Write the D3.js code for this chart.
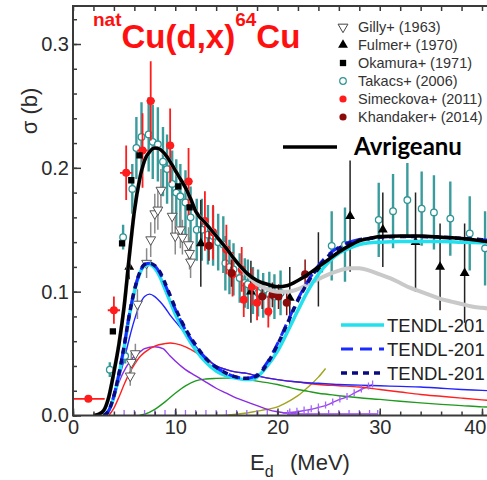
<!DOCTYPE html>
<html>
<head>
<meta charset="utf-8">
<script src="https://cdn.jsdelivr.net/npm/d3@7"></script>
<style>
  body { margin: 0; background: #fff; }
  svg { display: block; font-family: "Liberation Sans", Arial, sans-serif; }
</style>
</head>
<body>
<svg id="chart" width="487" height="480"></svg>
<script>
// ---- data (E in MeV, sigma in b) ----
const xTicks = [0, 10, 20, 30, 40];
const yTicks = [0, 0.1, 0.2, 0.3];

// model curves [E, sigma]
const avrigeanu = [[2,0],[2.5,0.001],[3,0.004],[3.5,0.015],[4,0.035],[4.5,0.058],[5,0.088],[5.5,0.128],[6,0.165],[6.5,0.19],[7,0.206],[7.5,0.213],[8,0.216],[8.5,0.215],[9,0.211],[9.5,0.205],[10,0.198],[10.5,0.191],[11,0.184],[11.5,0.175],[12,0.165],[13,0.155],[14,0.145],[15,0.135],[16,0.124],[17,0.115],[18,0.109],[19,0.106],[20,0.104],[21,0.105],[22,0.109],[23,0.114],[24,0.12],[25,0.126],[26,0.132],[27,0.137],[28,0.141],[29,0.143],[30,0.1445],[32,0.145],[34,0.145],[36,0.144],[38,0.143],[40,0.141],[42,0.139]];
const grayCurve = [[2,0],[2.5,0.001],[3,0.004],[3.5,0.015],[4,0.035],[4.5,0.058],[5,0.088],[5.5,0.128],[6,0.165],[6.5,0.19],[7,0.206],[7.5,0.213],[8,0.216],[8.5,0.215],[9,0.211],[9.5,0.205],[10,0.198],[10.5,0.191],[11,0.184],[11.5,0.175],[12,0.165],[13,0.155],[14,0.145],[15,0.135],[16,0.124],[17,0.114],[18,0.106],[19,0.102],[20,0.1],[21,0.1],[22,0.102],[23,0.106],[24,0.11],[25,0.114],[26,0.117],[27,0.119],[28,0.119],[29,0.117],[30,0.114],[31,0.111],[32,0.107],[33,0.103],[34,0.1],[35,0.097],[36,0.094],[37,0.092],[38,0.09],[39,0.088],[40,0.087],[42,0.085]];
const tendlA = [[3,0],[3.5,0.004],[4,0.015],[4.5,0.033],[5,0.055],[5.5,0.08],[6,0.1],[6.5,0.114],[7,0.121],[7.5,0.122],[8,0.119],[8.5,0.112],[9,0.102],[9.5,0.092],[10,0.082],[11,0.066],[12,0.053],[13,0.043],[14,0.036],[15,0.032],[16,0.03],[17,0.029],[17.5,0.029],[18,0.031],[19,0.04],[20,0.052],[21,0.068],[22,0.085],[23,0.101],[24,0.114],[25,0.124],[26,0.131],[27,0.135],[28,0.138],[29,0.1395],[30,0.14],[32,0.1405],[34,0.1405],[36,0.1405],[38,0.14],[40,0.1395],[42,0.139]];
const tendlB = [[3,0],[3.5,0.004],[4,0.016],[4.5,0.034],[5,0.056],[5.5,0.081],[6,0.101],[6.5,0.115],[7,0.122],[7.5,0.123],[8,0.121],[8.5,0.115],[9,0.106],[9.5,0.096],[10,0.086],[11,0.069],[12,0.056],[13,0.046],[14,0.039],[15,0.034],[16,0.031],[17,0.03],[18,0.033],[19,0.043],[20,0.058],[21,0.076],[22,0.094],[23,0.109],[24,0.121],[25,0.13],[26,0.136],[27,0.14],[28,0.142],[29,0.143],[30,0.144],[32,0.1445],[34,0.1445],[36,0.144],[38,0.143],[40,0.142],[42,0.141]];
const tendlC = [[3,0],[3.5,0.004],[4,0.016],[4.5,0.034],[5,0.056],[5.5,0.081],[6,0.101],[6.5,0.115],[7,0.122],[7.5,0.123],[8,0.121],[8.5,0.116],[9,0.107],[9.5,0.097],[10,0.087],[11,0.07],[12,0.057],[13,0.046],[14,0.039],[15,0.034],[16,0.031],[17,0.03],[18,0.032],[19,0.042],[20,0.057],[21,0.075],[22,0.093],[23,0.108],[24,0.12],[25,0.129],[26,0.135],[27,0.139],[28,0.142],[29,0.143],[30,0.144],[32,0.1445],[34,0.1445],[36,0.144],[38,0.143],[40,0.142],[42,0.141]];
const blueComp = [[3.3,0],[3.6,0.006],[4,0.015],[4.5,0.03],[5,0.045],[5.5,0.062],[6,0.077],[6.5,0.089],[7,0.096],[7.5,0.098],[8,0.096],[8.5,0.092],[9,0.087],[9.5,0.081],[10,0.076],[11,0.066],[12,0.056],[13,0.047],[14,0.04],[15,0.037],[16,0.035],[17,0.034],[18,0.032],[20,0.029],[22,0.027],[24,0.026],[26,0.025],[28,0.0245],[30,0.024],[32,0.0235],[34,0.023],[36,0.022],[38,0.021],[40,0.0203],[42,0.0195]];
const redComp = [[3.5,0],[4,0.006],[4.5,0.015],[5,0.025],[5.5,0.034],[6,0.041],[6.5,0.047],[7,0.051],[8,0.056],[9,0.058],[9.5,0.0585],[10,0.058],[11,0.0555],[12,0.051],[13,0.045],[14,0.04],[15,0.037],[16,0.035],[17,0.034],[18,0.032],[20,0.029],[22,0.027],[24,0.025],[26,0.024],[28,0.023],[30,0.021],[32,0.019],[34,0.017],[36,0.0155],[38,0.014],[40,0.0126],[42,0.0115]];
const purpleComp = [[3.3,0],[3.9,0.0125],[4.5,0.027],[5.2,0.039],[6,0.048],[6.5,0.051],[7,0.054],[8,0.0555],[8.8,0.054],[9.5,0.048],[10,0.044],[11,0.037],[12,0.032],[13,0.027],[14,0.022],[15,0.018],[16,0.014],[17,0.011],[18,0.008],[19,0.005],[20,0.003],[21,0.002],[22,0.002]];
const purpleRise = [[20.5,0.002],[21.2,0.0025],[21.9,0.003],[22.6,0.004],[23.3,0.005],[24,0.0065],[24.7,0.008],[25.4,0.0105],[26.1,0.013],[26.8,0.015],[27.5,0.018],[28.2,0.021],[28.9,0.0235],[29.3,0.025]];
const purpleBase = [[5,0.0012],[6,0.0012],[7,0.0012],[8,0.0012],[9,0.0012],[10,0.0012],[11,0.0012],[12,0.0012],[13,0.0012],[14,0.0012],[15,0.0012],[16,0.0012],[17,0.0012],[18,0.0012],[19,0.0012],[20,0.0012],[21,0.0012],[22,0.0012],[23,0.0012],[24,0.0012],[25,0.0012],[26,0.0012],[27,0.0012],[28,0.0012],[29,0.0012],[29.8,0.0012]];
const greenComp = [[6.5,0],[7,0.001],[8,0.005],[9,0.011],[10,0.018],[11,0.024],[12,0.028],[13,0.0295],[14,0.03],[15,0.0302],[16,0.03],[17,0.029],[18,0.0278],[19,0.0265],[20,0.025],[21,0.023],[22,0.021],[23,0.0195],[24,0.018],[25,0.017],[26,0.016],[28,0.0143],[30,0.013],[32,0.0115],[34,0.0102],[36,0.009],[38,0.008],[40,0.007],[42,0.0065]];
const oliveComp = [[14,0],[15,0.0003],[16,0.001],[17,0.002],[18,0.0035],[19,0.005],[20,0.007],[21,0.011],[22,0.016],[23,0.023],[24,0.031],[24.7,0.038]];

// experimental points [E, sigma, dSigma]
const gilly = [[5.6,0.032,0.008],[5.7,0.043,0.008],[6.1,0.05,0.008],[6.3,0.09,0.012],[7.2,0.123,0.012],[7.6,0.142,0.014],[8.0,0.163,0.016],[8.3,0.166,0.016],[8.6,0.182,0.017],[9.7,0.161,0.016],[10.0,0.145,0.015],[10.5,0.150,0.015],[10.7,0.144,0.014],[11.3,0.138,0.014],[11.4,0.131,0.013],[11.5,0.124,0.013]];
const fulmer = [[5.5,0.12,0.01],[12.5,0.139,0.035],[17.4,0.10,0.025],[21.2,0.095,0.025],[24.0,0.118,0.03],[27.1,0.161,0.045],[30.3,0.150,0.03],[33.5,0.140,0.04],[35.9,0.120,0.035],[38.3,0.115,0.04]];
const okamura = [[3.9,0.068,0.005],[4.8,0.139,0.006],[5.7,0.19,0.008],[6.5,0.21,0.008],[10.3,0.185,0.008],[11.4,0.168,0.008]];
const takacs = [[3.6,0.037,0.006],[4.9,0.144,0.01],[5.1,0.048,0.006],[5.8,0.183,0.02],[6.2,0.216,0.025],[6.7,0.225,0.028],[7.4,0.227,0.03],[7.8,0.221,0.03],[8.3,0.219,0.03],[8.8,0.205,0.028],[9.2,0.199,0.028],[9.7,0.187,0.027],[10.1,0.18,0.027],[10.5,0.177,0.026],[11.0,0.172,0.026],[11.5,0.16,0.025],[12.1,0.15,0.025],[12.6,0.15,0.025],[13.2,0.146,0.024],[13.7,0.145,0.024],[14.2,0.14,0.023],[14.7,0.138,0.023],[14.9,0.123,0.022],[15.3,0.12,0.022],[15.7,0.118,0.021],[16.3,0.111,0.02],[16.8,0.107,0.02],[17.1,0.106,0.02],[17.6,0.101,0.019],[18.1,0.099,0.019],[18.6,0.097,0.018],[19.2,0.098,0.018],[19.7,0.096,0.018],[20.3,0.099,0.018],[25.3,0.137,0.028],[26.6,0.138,0.03],[29.9,0.158,0.03],[31.3,0.165,0.03],[32.7,0.174,0.03],[34.1,0.167,0.03],[35.3,0.164,0.03],[36.9,0.159,0.03],[38.8,0.147,0.03],[40.3,0.135,0.03]];
const simeckova = [[1.5,0.0135,0.002,1.6],[4.0,0.085,0.011,0.6],[5.2,0.196,0.022,0.6],[6.8,0.214,0.03,0.5],[7.6,0.254,0.032,0.4],[9.5,0.218,0.03,0.4],[11.3,0.189,0.027,0.4],[12.9,0.157,0.024,0.3],[13.7,0.148,0.022,0.3],[15.0,0.134,0.02,0.3],[15.6,0.114,0.018,0.3],[16.5,0.118,0.018,0.3],[16.7,0.0935,0.014,0.3],[17.5,0.104,0.015,0.3],[18.0,0.091,0.014,0.3],[19.1,0.084,0.013,0.3]];
const khandaker = [[13.3,0.137,0.012],[15.5,0.115,0.011],[18.5,0.096,0.01],[19.5,0.0975,0.01],[20.1,0.096,0.01],[20.9,0.091,0.01],[22.7,0.114,0.012]];

const expLegend = ["Gilly+ (1963)", "Fulmer+ (1970)", "Okamura+ (1971)", "Takacs+ (2006)", "Simeckova+ (2011)", "Khandaker+ (2014)"];
const tendlLegend = ["TENDL-201", "TENDL-201", "TENDL-201"];

// ---- layout ----
const svg = d3.select("#chart");
const plot = { left: 73, right: 502, top: 6, bottom: 415.5 };

const x = d3.scaleLinear().domain([0, 40]).range([plot.left, 482]);
const y = d3.scaleLinear().domain([0, 0.3]).range([plot.bottom, 44]);

const teal = "#2f9595";
const red = "#ff1c1c";
const darkRed = "#8b0b0b";
const purple = "#9b45f0";

svg.append("clipPath").attr("id", "clip")
  .append("rect")
  .attr("x", plot.left).attr("y", plot.top)
  .attr("width", plot.right - plot.left).attr("height", plot.bottom - plot.top);

const g = svg.append("g").attr("clip-path", "url(#clip)");

const line = d3.line()
  .x(d => x(d[0]))
  .y(d => y(d[1]))
  .curve(d3.curveMonotoneX);

//Component curves
const thin = [
  [oliveComp, "#a3a31c"],
  [greenComp, "#1f9a1f"],
  [purpleComp, "#8a2be2"],
  [purpleRise, purple],
  [purpleBase.filter(d => d[0] >= 20.5), purple],
  [redComp, "#ff2020"],
  [blueComp, "#2323ff"]
];
thin.forEach(([data, color]) => {
  g.append("path").datum(data)
    .attr("d", line)
    .attr("fill", "none")
    .attr("stroke", color)
    .attr("stroke-width", 1.4);
});

// tick markers on the purple series
g.selectAll(".ptick").data(purpleRise.slice(1).concat(purpleBase)).enter()
  .append("line")
  .attr("x1", d => x(d[0])).attr("x2", d => x(d[0]))
  .attr("y1", d => y(d[1]) - 4).attr("y2", d => y(d[1]) + 3)
  .attr("stroke", "#a366f5").attr("stroke-width", 1.3);

//Error bars helper
const drawPoints = (data, color, width) => {
  const grp = g.append("g");
  grp.selectAll("line.ey").data(data).enter()
    .append("line")
    .attr("x1", d => x(d[0])).attr("x2", d => x(d[0]))
    .attr("y1", d => y(d[1] - d[2])).attr("y2", d => y(d[1] + d[2]))
    .attr("stroke", color).attr("stroke-width", width);
  return grp;
};

// Takacs
const tk = drawPoints(takacs, "#3a9c9c", 2.4);
// Gilly
const gl = drawPoints(gilly, "#8a8a8a", 1.5);
// Fulmer
const fu = drawPoints(fulmer, "#222", 1.5);
// Simeckova (with energy bars)
const sm = drawPoints(simeckova, red, 1.8);
sm.selectAll("line.ex").data(simeckova).enter()
  .append("line")
  .attr("x1", d => x(d[0] - d[3])).attr("x2", d => x(d[0] + d[3]))
  .attr("y1", d => y(d[1])).attr("y2", d => y(d[1]))
  .attr("stroke", red).attr("stroke-width", 1.8);
// Khandaker
const kh = drawPoints(khandaker, darkRed, 1.5);

//Model curves
g.append("path").datum(grayCurve).attr("d", line)
  .attr("fill", "none").attr("stroke", "#c9c9c9").attr("stroke-width", 4);
g.append("path").datum(tendlA).attr("d", line)
  .attr("fill", "none").attr("stroke", "#22e0ee").attr("stroke-width", 3.5);
g.append("path").datum(tendlB).attr("d", line)
  .attr("fill", "none").attr("stroke", "#1a2bff").attr("stroke-width", 3)
  .attr("stroke-dasharray", "12,7");
g.append("path").datum(tendlC).attr("d", line)
  .attr("fill", "none").attr("stroke", "#0a0a80").attr("stroke-width", 3.5)
  .attr("stroke-dasharray", "6,5");
g.append("path").datum(avrigeanu).attr("d", line)
  .attr("fill", "none").attr("stroke", "#000").attr("stroke-width", 3.5);

//Symbols
const triUp = d3.symbol().type(d3.symbolTriangle).size(42);
const square = d3.symbol().type(d3.symbolSquare).size(40);

tk.selectAll("circle").data(takacs).enter().append("circle")
  .attr("cx", d => x(d[0])).attr("cy", d => y(d[1])).attr("r", 3.3)
  .attr("fill", "#fff").attr("stroke", teal).attr("stroke-width", 1.3);
gl.selectAll("path").data(gilly).enter().append("path")
  .attr("d", triUp)
  .attr("transform", d => `translate(${x(d[0])},${y(d[1])}) rotate(180)`)
  .attr("fill", "#fff").attr("stroke", "#555").attr("stroke-width", 1);
fu.selectAll("path").data(fulmer).enter().append("path")
  .attr("d", triUp)
  .attr("transform", d => `translate(${x(d[0])},${y(d[1])})`)
  .attr("fill", "#000");
g.selectAll(".oka").data(okamura).enter().append("path")
  .attr("d", square)
  .attr("transform", d => `translate(${x(d[0])},${y(d[1])})`)
  .attr("fill", "#000");
sm.selectAll("circle").data(simeckova).enter().append("circle")
  .attr("cx", d => x(d[0])).attr("cy", d => y(d[1])).attr("r", 4)
  .attr("fill", red);
kh.selectAll("circle").data(khandaker).enter().append("circle")
  .attr("cx", d => x(d[0])).attr("cy", d => y(d[1])).attr("r", 4)
  .attr("fill", darkRed);

//Axes
const frame = svg.append("g");
frame.append("rect")
  .attr("x", plot.left).attr("y", plot.top)
  .attr("width", plot.right - plot.left).attr("height", plot.bottom - plot.top)
  .attr("fill", "none").attr("stroke", "#3a3a3a").attr("stroke-width", 2);

const minorX = d3.range(0, 42, 2);
const minorY = d3.range(0, 0.33, 0.02);

const styleAxis = sel => {
  sel.select(".domain").remove();
  sel.selectAll("line").attr("stroke", "#3a3a3a").attr("stroke-width", 1.5);
  sel.selectAll("text").attr("font-size", 20).attr("fill", "#2b2b2b");
};

svg.append("g").attr("transform", `translate(0,${plot.bottom})`)
  .call(d3.axisBottom(x).tickValues(minorX).tickSize(-4).tickFormat(""))
  .call(styleAxis);
const xAxisG = svg.append("g").attr("transform", `translate(0,${plot.bottom})`)
  .call(d3.axisBottom(x).tickValues(xTicks).tickSize(-7).tickPadding(4).tickFormat(d3.format("d")))
  .call(styleAxis);
// keep the last label inside the window
xAxisG.selectAll(".tick text").filter(d => d === 40)
  .attr("text-anchor", "end").attr("dx", 4);
svg.append("g").attr("transform", `translate(0,${plot.top})`)
  .call(d3.axisTop(x).tickValues(minorX).tickSize(-5).tickFormat(""))
  .call(styleAxis);
svg.append("g").attr("transform", `translate(${plot.left},0)`)
  .call(d3.axisLeft(y).tickValues(minorY).tickSize(-4).tickFormat(""))
  .call(styleAxis);
svg.append("g").attr("transform", `translate(${plot.left},0)`)
  .call(d3.axisLeft(y).tickValues(yTicks).tickSize(-8).tickPadding(4).tickFormat(d3.format(".1f")))
  .call(styleAxis);

//Axis titles
svg.append("text")
  .attr("transform", "translate(37,111) rotate(-90)")
  .attr("text-anchor", "middle")
  .attr("font-size", 22).attr("fill", "#2b2b2b")
  .text("\u03c3  (b)");

const xt = svg.append("text")
  .attr("x", 250).attr("y", 470)
  .attr("font-size", 22).attr("fill", "#2b2b2b");
xt.append("tspan").text("E");
xt.append("tspan").attr("font-size", 16).attr("dy", 7).text("d");
xt.append("tspan").attr("x", 290).attr("dy", -7).text("(MeV)");

//Title
const title = svg.append("text")
  .attr("x", 93).attr("y", 48)
  .attr("fill", "#ff1010").attr("font-weight", "bold")
  .attr("font-size", 33);
title.append("tspan").attr("font-size", 19).attr("dy", -22).text("nat");
title.append("tspan").attr("dy", 22).text("Cu(d,x)");
title.append("tspan").attr("font-size", 19).attr("dy", -22).text("64");
title.append("tspan").attr("dy", 22).text("Cu");

//Experimental legend
const leg = svg.append("g").attr("transform", "translate(343,27)");
expLegend.forEach((name, i) => {
  const row = leg.append("g").attr("transform", `translate(0,${i * 18})`);
  if (i === 0) row.append("path").attr("d", triUp).attr("transform", "rotate(180)")
    .attr("fill", "#fff").attr("stroke", "#444");
  if (i === 1) row.append("path").attr("d", triUp).attr("fill", "#000");
  if (i === 2) row.append("path").attr("d", square).attr("fill", "#000");
  if (i === 3) row.append("circle").attr("r", 3.3).attr("fill", "#fff").attr("stroke", teal).attr("stroke-width", 1.2);
  if (i === 4) row.append("circle").attr("r", 3.6).attr("fill", red);
  if (i === 5) row.append("circle").attr("r", 3.6).attr("fill", darkRed);
  row.append("text").attr("x", 15).attr("y", 5)
    .attr("font-size", 14.5).attr("fill", "#333").text(name);
});

// Avrigeanu legend
svg.append("line").attr("x1", 283).attr("x2", 337).attr("y1", 147).attr("y2", 147)
  .attr("stroke", "#000").attr("stroke-width", 3.5);
svg.append("text").attr("x", 354).attr("y", 155)
  .attr("font-family", "Lato, 'Open Sans', sans-serif")
  .attr("font-weight", "bold").attr("font-size", 24).attr("fill", "#000")
  .text("Avrigeanu");

// TENDL legend
const tendlStyles = [
  { color: "#22e0ee", width: 3.5, dash: null },
  { color: "#1a2bff", width: 3, dash: "12,7" },
  { color: "#0a0a80", width: 3.5, dash: "6,5" }
];
tendlLegend.forEach((name, i) => {
  const yy = 325 + i * 24;
  svg.append("line").attr("x1", 341).attr("x2", 384).attr("y1", yy).attr("y2", yy)
    .attr("stroke", tendlStyles[i].color).attr("stroke-width", tendlStyles[i].width)
    .attr("stroke-dasharray", tendlStyles[i].dash);
  svg.append("text").attr("x", 387).attr("y", yy + 7)
    .attr("font-size", 18.5).attr("fill", "#222").text(name);
});
</script>
</body>
</html>
